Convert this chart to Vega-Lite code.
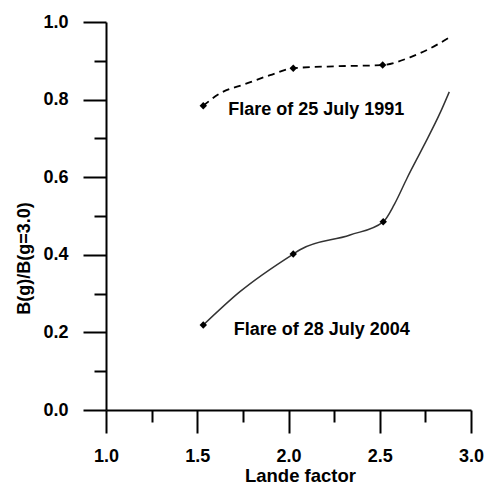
{
  "$schema": "https://vega.github.io/schema/vega-lite/v6.json",
  "width": 365,
  "height": 388,
  "autosize": {"type": "none"},
  "padding": {"left": 106, "top": 22, "right": 14, "bottom": 80},
  "background": "white",
  "config": {"view": {"stroke": null}},
  "data": {
    "values": [
      {"series": "1991", "x": 1.533, "y": 0.784, "marker": true},
      {"series": "1991", "x": 1.625, "y": 0.816, "marker": false},
      {"series": "1991", "x": 1.762, "y": 0.840, "marker": false},
      {"series": "1991", "x": 1.899, "y": 0.863, "marker": false},
      {"series": "1991", "x": 2.026, "y": 0.881, "marker": true},
      {"series": "1991", "x": 2.27, "y": 0.886, "marker": false},
      {"series": "1991", "x": 2.516, "y": 0.889, "marker": true},
      {"series": "1991", "x": 2.666, "y": 0.909, "marker": false},
      {"series": "1991", "x": 2.812, "y": 0.941, "marker": false},
      {"series": "1991", "x": 2.881, "y": 0.960, "marker": false},
      {"series": "2004", "x": 1.533, "y": 0.219, "marker": true},
      {"series": "2004", "x": 1.734, "y": 0.305, "marker": false},
      {"series": "2004", "x": 2.026, "y": 0.402, "marker": true},
      {"series": "2004", "x": 2.063, "y": 0.413, "marker": false},
      {"series": "2004", "x": 2.337, "y": 0.451, "marker": false},
      {"series": "2004", "x": 2.519, "y": 0.485, "marker": true},
      {"series": "2004", "x": 2.58, "y": 0.530, "marker": false},
      {"series": "2004", "x": 2.65, "y": 0.598, "marker": false},
      {"series": "2004", "x": 2.74, "y": 0.680, "marker": false},
      {"series": "2004", "x": 2.83, "y": 0.765, "marker": false},
      {"series": "2004", "x": 2.881, "y": 0.820, "marker": false}
    ]
  },
  "resolve": {"axis": {"x": "independent", "y": "independent"}},
  "layer": [
    {
      "transform": [{"filter": "datum.series == '1991'"}],
      "mark": {"type": "line", "interpolate": "monotone", "strokeDash": [7, 5], "strokeWidth": 1.8, "color": "black"},
      "encoding": {
        "x": {
          "field": "x", "type": "quantitative",
          "scale": {"domain": [1, 3], "nice": false, "zero": false},
          "axis": {
            "orient": "bottom",
            "title": "Lande factor",
            "values": [1, 1.5, 2, 2.5, 3],
            "format": ".1f",
            "grid": false,
            "tickSize": 23, "tickWidth": 2, "tickColor": "black",
            "domainWidth": 2, "domainColor": "black",
            "labelPadding": 23.5, "labelBaseline": "middle",
            "labelFlush": false, "labelOverlap": false,
            "labelFont": "Liberation Sans", "labelFontWeight": "bold", "labelFontSize": 18, "labelColor": "black",
            "titleFont": "Liberation Sans", "titleFontWeight": "bold", "titleFontSize": 18.5, "titleColor": "black",
            "titleX": 194, "titleY": 65, "titleBaseline": "middle", "titleAlign": "center", "titleAnchor": null
          }
        },
        "y": {
          "field": "y", "type": "quantitative",
          "scale": {"domain": [0, 1], "nice": false, "zero": false},
          "axis": {
            "orient": "left",
            "title": "B(g)/B(g=3.0)",
            "values": [0, 0.2, 0.4, 0.6, 0.8, 1.0],
            "format": ".1f",
            "grid": false,
            "tickSize": 23, "tickWidth": 2, "tickColor": "black",
            "domainWidth": 2, "domainColor": "black",
            "labelPadding": 15,
            "labelFlush": false, "labelOverlap": false,
            "labelFont": "Liberation Sans", "labelFontWeight": "bold", "labelFontSize": 18, "labelColor": "black",
            "titleFont": "Liberation Sans", "titleFontWeight": "bold", "titleFontSize": 18, "titleColor": "black",
            "titleX": -82, "titleY": 236, "titleBaseline": "middle", "titleAlign": "center", "titleAnchor": null, "titleAngle": -90
          }
        }
      }
    },
    {
      "transform": [{"filter": "datum.series == '2004'"}],
      "mark": {"type": "line", "interpolate": "monotone", "strokeWidth": 1.5, "color": "#333"},
      "encoding": {
        "x": {
          "field": "x", "type": "quantitative",
          "axis": {
            "orient": "bottom", "title": null, "labels": false, "domain": false, "grid": false,
            "values": [1.25, 1.75, 2.25, 2.75],
            "tickSize": 12, "tickWidth": 2, "tickColor": "black"
          }
        },
        "y": {
          "field": "y", "type": "quantitative",
          "axis": {
            "orient": "left", "title": null, "labels": false, "domain": false, "grid": false,
            "values": [0.1, 0.3, 0.5, 0.7, 0.9],
            "tickSize": 12, "tickWidth": 2, "tickColor": "black"
          }
        }
      }
    },
    {
      "transform": [{"filter": "datum.marker"}],
      "mark": {"type": "point", "shape": "diamond", "filled": true, "size": 55, "color": "black", "opacity": 1},
      "encoding": {
        "x": {"field": "x", "type": "quantitative", "axis": null},
        "y": {"field": "y", "type": "quantitative", "axis": null}
      }
    },
    {
      "data": {
        "values": [
          {"x": 1.670, "y": 0.760, "label": "Flare of 25 July 1991"},
          {"x": 1.700, "y": 0.193, "label": "Flare of 28 July 2004"}
        ]
      },
      "mark": {"type": "text", "align": "left", "baseline": "alphabetic", "font": "Liberation Sans", "fontWeight": "bold", "fontSize": 18, "color": "black"},
      "encoding": {
        "x": {"field": "x", "type": "quantitative", "axis": null},
        "y": {"field": "y", "type": "quantitative", "axis": null},
        "text": {"field": "label"}
      }
    }
  ]
}
